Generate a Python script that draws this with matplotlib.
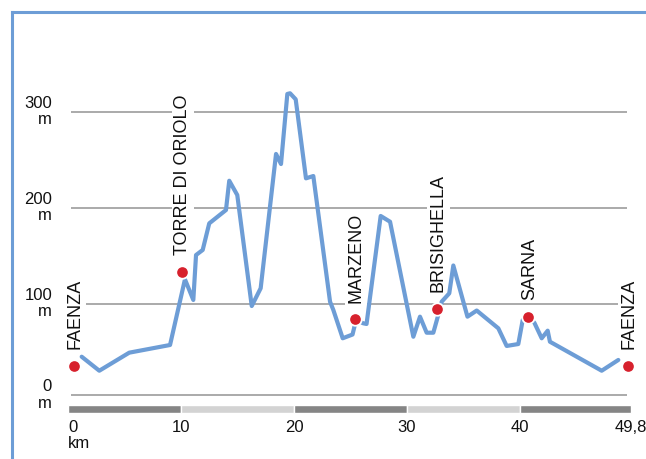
import matplotlib
matplotlib.use("Agg")
import matplotlib.pyplot as plt
from matplotlib.patches import Rectangle
from matplotlib.lines import Line2D

# ---- data ----
profile_km = [1.21, 2.77, 5.42, 9.03, 10.35, 11.09, 11.33, 11.92, 12.5, 13.98, 14.27, 14.98,
              16.26, 17.05, 18.41, 18.85, 19.41, 19.65, 20.15, 21.06, 21.71, 23.19, 23.48,
              24.31, 25.18, 25.49, 26.13, 26.42, 27.67, 28.5, 30.56, 31.15, 31.74, 32.33,
              32.92, 33.07, 33.74, 34.1, 35.35, 36.17, 38.08, 38.82, 39.85, 40.24, 40.73,
              41.27, 41.92, 42.45, 42.65, 47.23, 48.7]
profile_m = [45.1, 30.5, 49.3, 57.3, 125.7, 104.2, 151, 156.3, 184, 197.9, 228.4, 213.5,
             97.9, 116.4, 256.3, 245.8, 318.8, 319.5, 313.2, 230.9, 233.3, 102.4, 93.8,
             64.3, 68.2, 83.3, 79.9, 79.2, 191.7, 185.7, 65.9, 86.8, 70.1, 70.1,
             95.0, 102.4, 111.1, 140.1, 86.8, 93.2, 74.7, 56.3, 58.3, 83.3, 86.8,
             80.5, 64.3, 72.2, 60.7, 30.5, 41.7]

place_names = ["FAENZA", "TORRE DI ORIOLO", "MARZENO", "BRISIGHELLA", "SARNA", "FAENZA"]
place_km = [0.53, 10.06, 25.4, 32.68, 40.73, 49.58]
place_m = [35.4, 133.6, 84.0, 95.1, 86.8, 35.4]

y_ticks = [300, 200, 100]
y_tick_labels = ["300", "200", "100"]
zero_line_m = 5.2
x_ticks = [0, 10, 20, 30, 40, 49.8]
x_tick_labels = ["0", "10", "20", "30", "40", "49,8"]
segment_edges = [0, 10, 20, 30, 40, 49.8]
segment_colors = ["#858585", "#d3d3d3", "#858585", "#d3d3d3", "#858585"]

FONT = "Liberation Sans"
plt.rcParams['font.family'] = [FONT, 'DejaVu Sans']

W, H = 646, 459
fig = plt.figure(figsize=(W / 100, H / 100), dpi=100)
ax = fig.add_axes([0, 0, 1, 1])
# pixel mapping: px = 68 + 11.3*km ; py = 400 - 0.96*m
ax.set_xlim(-68 / 11.3, (W - 68) / 11.3)
ax.set_ylim((400 - H) / 0.96, 400 / 0.96)
ax.axis('off')

grid_col = "#9c9c9c"
gx0, gx1 = 0.27, 49.5
for v in y_ticks:
    ax.plot([gx0, gx1], [v, v], color=grid_col, lw=1.2, zorder=1, solid_capstyle='butt')
ax.plot([gx0, gx1], [zero_line_m, zero_line_m], color=grid_col, lw=1.2, zorder=1,
        solid_capstyle='butt')

# y labels
lab_x = (52 - 68) / 11.3
for v, t in zip(y_ticks + [zero_line_m], y_tick_labels + ["0"]):
    ax.text(lab_x, v + 4 / 0.96, t, ha='right', va='baseline', fontsize=12, color='#111111')
    ax.text(lab_x, v - 12.5 / 0.96, "m", ha='right', va='baseline', fontsize=12, color='#111111')

# distance bar
bar_top, bar_bot = -5.2, -13.5
for a, b, c in zip(segment_edges[:-1], segment_edges[1:], segment_colors):
    ax.add_patch(Rectangle((a, bar_bot), b - a, bar_top - bar_bot, facecolor=c,
                           edgecolor='white', lw=1.0, zorder=2))

# x labels
xl_y = (400 - 432) / 0.96
for v, t in zip(x_ticks, x_tick_labels):
    ax.text(v, xl_y, t, ha='left' if v == 0 else 'center', va='baseline', fontsize=12,
            color='#111111')
ax.text(0, (400 - 448) / 0.96, "km", ha='left', va='baseline', fontsize=12, color='#111111')

# profile
ax.plot(profile_km, profile_m, color='#6d9dd6', lw=3.0, zorder=4,
        solid_joinstyle='round', solid_capstyle='round')

# places
ax.plot(place_km, place_m, 'o', color='#d7212d', markersize=9, markeredgecolor='white',
        markeredgewidth=1.3, zorder=5)
for n, k, m in zip(place_names, place_km, place_m):
    ax.annotate(n, xy=(k, m), xytext=(0.8, 12), textcoords='offset points', rotation=90,
                ha='center', va='bottom', fontsize=13, color='#111111', zorder=3,
                bbox=dict(boxstyle='square,pad=0.15', facecolor='white', edgecolor='none'))

# blue frame
bcol = '#6d9dd6'
fig.add_artist(Line2D([12 / W, 12 / W], [0, 1 - 12 / H], color=bcol, lw=2.2,
                      transform=fig.transFigure))
fig.add_artist(Line2D([12 / W, 1], [1 - 12 / H, 1 - 12 / H], color=bcol, lw=2.2,
                      transform=fig.transFigure, solid_capstyle='projecting'))

fig.savefig("out.png", dpi=100)
